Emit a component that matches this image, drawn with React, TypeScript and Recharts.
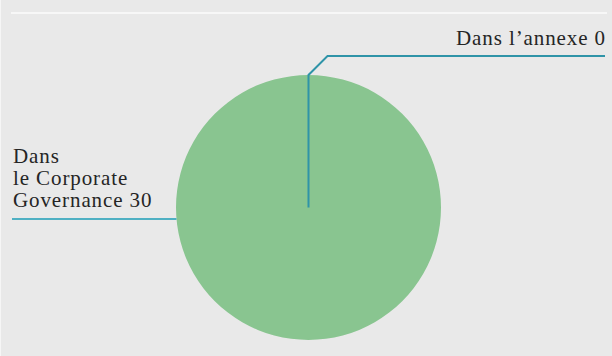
import React from "react";
import { PieChart, Pie, Cell } from "recharts";

const categories = ["Dans le Corporate Governance", "Dans l’annexe"];
const values = [30, 0];
const labelLines = [["Dans", "le Corporate", "Governance 30"], ["Dans l’annexe 0"]];

const data = categories.map((name, i) => ({ name, value: values[i] }));

const FONT = "'Liberation Serif', 'DejaVu Serif', serif";

const renderLabel = (props: any) => {
  const { cx, cy, outerRadius, index } = props;
  const r = outerRadius;
  if (index === 1) {
    const yH = cy - r - 19;
    return (
      <g key="l1">
        <path
          d={`M${cx},${cy} L${cx},${cy - r} L${cx + 19},${yH} L605,${yH}`}
          fill="none"
          stroke="#2f94a8"
          strokeWidth={2}
        />
        <text x={606} y={cy - r - 30} textAnchor="end" fill="#252525" fontFamily={FONT} fontSize={21} letterSpacing={0.9}>
          {labelLines[1][0]}
        </text>
      </g>
    );
  }
  const yL = cy + 11.5;
  const xEdge = cx - Math.sqrt(r * r - 11.5 * 11.5);
  return (
    <g key="l0">
      <line x1={12} y1={yL} x2={xEdge} y2={yL} stroke="#4fb0c3" strokeWidth={2} />
      <text x={13} y={163.3} fill="#252525" fontFamily={FONT} fontSize={21} letterSpacing={0.9}>
        {labelLines[0].map((t, i) => (
          <tspan key={i} x={13} dy={i === 0 ? 0 : 21.7}>
            {t}
          </tspan>
        ))}
      </text>
    </g>
  );
};

export default function App() {
  return (
    <div style={{ position: "absolute", left: 0, top: 0, width: 612, height: 356, background: "#e9e9e9", borderLeft: "1px solid #f6f6f6", boxSizing: "border-box" }}>
      <div style={{ position: "absolute", left: 10, top: 12, width: 596, height: 2, background: "#f7f7f7" }} />
      <div style={{ position: "absolute", left: -1, top: 0 }}>
        <PieChart width={612} height={356} margin={{ top: 0, right: 0, bottom: 0, left: 0 }}>
          <Pie
            data={data}
            dataKey="value"
            nameKey="name"
            cx={308.5}
            cy={207.5}
            outerRadius={132.5}
            startAngle={90}
            endAngle={-270}
            stroke="none"
            label={renderLabel}
            labelLine={false}
            isAnimationActive={false}
          >
            {data.map((d, i) => (
              <Cell key={i} fill="#89c590" />
            ))}
          </Pie>
        </PieChart>
      </div>
    </div>
  );
}
